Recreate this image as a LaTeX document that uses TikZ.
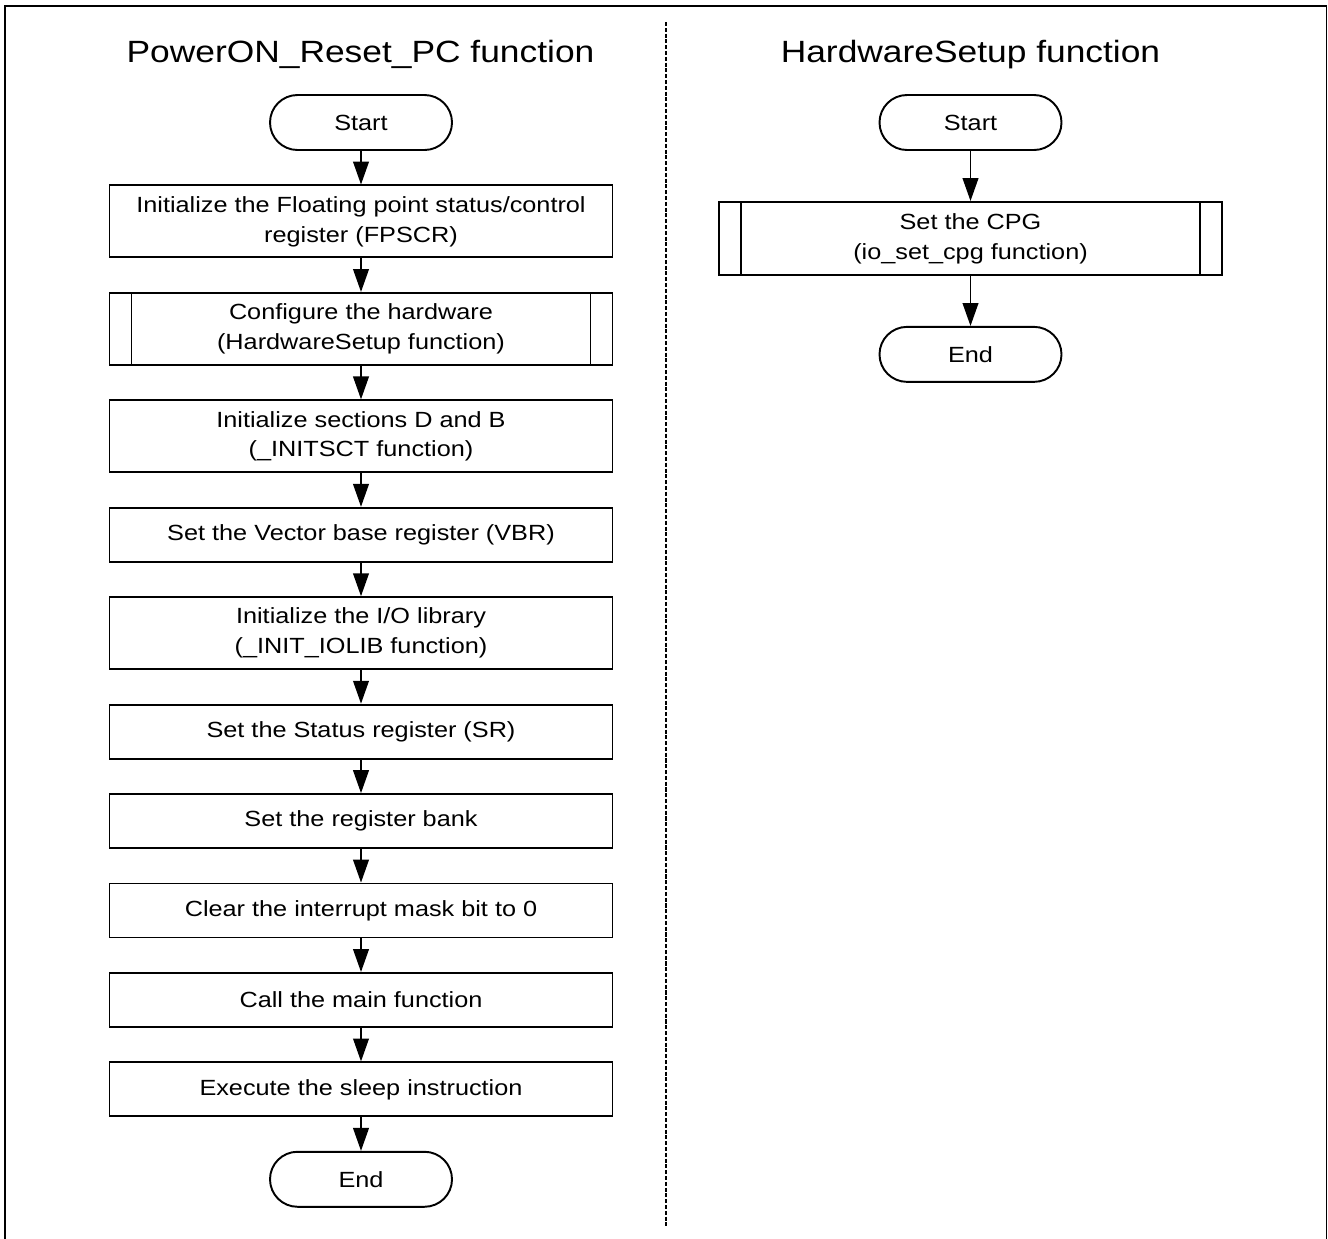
\documentclass[tikz,border=0pt]{standalone}
\usepackage{fontspec}
\setmainfont[FakeStretch=1.15]{Liberation Sans}
\usetikzlibrary{arrows.meta, positioning}

\begin{document}
\begin{tikzpicture}[
    node distance=0.67cm,
    every node/.style={
        font=\fontsize{12.5}{17}\selectfont,
        align=center
    },
    term/.style={
        draw,
        line width=1.1pt,
        rounded corners=0.55cm,
        minimum width=3.64cm,
        minimum height=1.1cm
    },
    proc/.style={
        draw,
        line width=1.1pt,
        minimum width=10.06cm,
        minimum height=1.08cm
    },
    proctwo/.style={proc, minimum height=1.44cm},
    subproc/.style={
        proctwo,
        path picture={
            \draw[line width=1.1pt]
                ([xshift=0.44cm]path picture bounding box.north west) --
                ([xshift=0.44cm]path picture bounding box.south west)
                ([xshift=-0.44cm]path picture bounding box.north east) --
                ([xshift=-0.44cm]path picture bounding box.south east);
        }
    },
    title/.style={font=\fontsize{17.5}{21}\selectfont, anchor=base},
    arrow/.style={-{Triangle[length=13pt, width=9pt]}, line width=0.75pt}
]
\useasboundingbox (0,0) rectangle (26.56,-24.76);
\draw[line width=1.1pt] (0.1,-0.12) rectangle (26.53,-24.95);

% divider between the two functions
\coordinate (divtop) at (13.32,-0.44);
\coordinate (divbot) at (13.32,-24.54);
\draw[line width=1.1pt, dash pattern=on 2.3pt off 1pt] (divtop) -- (divbot);

\node[title] (titleA) at (7.21,-1.24) {PowerON\_Reset\_PC function};
\node[title] (titleB) at (19.41,-1.24) {HardwareSetup function};

% PowerON_Reset_PC
\node[term] (startA) at (7.22,-2.45) {Start};

\node[proctwo, below=of startA] (fpscr) {
    Initialize the Floating point status/control\\
    register (FPSCR)
};

\node[subproc, below=of fpscr] (hwsetup) {
    Configure the hardware\\
    (HardwareSetup function)
};

\node[proctwo, below=of hwsetup] (initsct) {
    Initialize sections D and B\\
    (\_INITSCT function)
};

\node[proc, below=of initsct] (vbr) {Set the Vector base register (VBR)};

\node[proctwo, below=of vbr] (iolib) {
    Initialize the I/O library\\
    (\_INIT\_IOLIB function)
};

\node[proc, below=of iolib] (sr) {Set the Status register (SR)};
\node[proc, below=of sr] (regbank) {Set the register bank};
\node[proc, below=of regbank] (intmask) {Clear the interrupt mask bit to 0};
\node[proc, below=of intmask] (callmain) {Call the main function};
\node[proc, below=of callmain] (sleep) {Execute the sleep instruction};
\node[term, below=of sleep] (endA) {End};

% HardwareSetup
\node[term] (startB) at (19.41,-2.45) {Start};

\node[subproc, minimum height=1.46cm, below=1.0cm of startB] (setcpg) {
    Set the CPG\\
    (io\_set\_cpg function)
};

\node[term, below=1.0cm of setcpg] (endB) {End};

\draw[arrow] (startA) -- (fpscr);
\draw[arrow] (fpscr) -- (hwsetup);
\draw[arrow] (hwsetup) -- (initsct);
\draw[arrow] (initsct) -- (vbr);
\draw[arrow] (vbr) -- (iolib);
\draw[arrow] (iolib) -- (sr);
\draw[arrow] (sr) -- (regbank);
\draw[arrow] (regbank) -- (intmask);
\draw[arrow] (intmask) -- (callmain);
\draw[arrow] (callmain) -- (sleep);
\draw[arrow] (sleep) -- (endA);

\draw[arrow] (startB) -- (setcpg);
\draw[arrow] (setcpg) -- (endB);

\end{tikzpicture}
\end{document}
